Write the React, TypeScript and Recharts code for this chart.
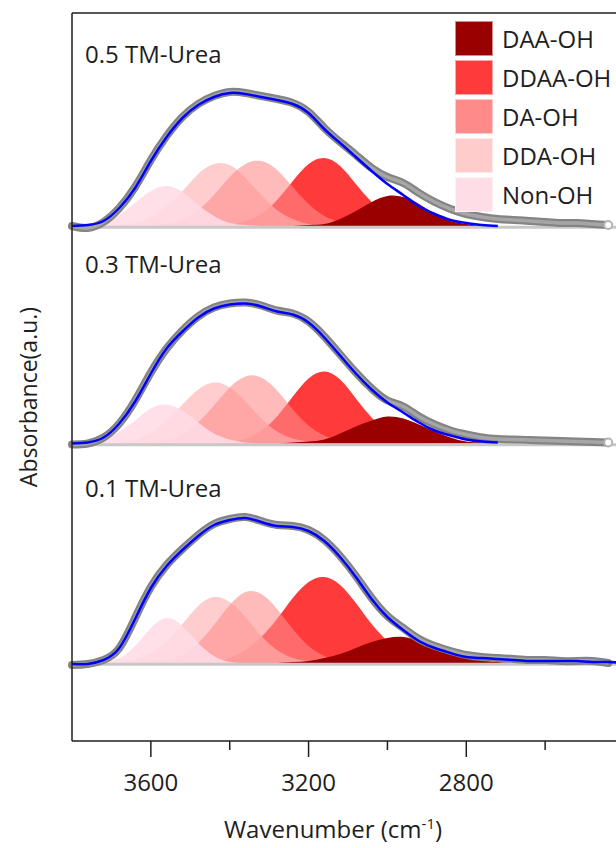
import { Area, ComposedChart, Line, ReferenceLine, XAxis, YAxis } from 'recharts'

// wavenumber grid (cm-1), high to low
const wavenumbers = [
  3800, 3760, 3720, 3680, 3640, 3600, 3560, 3520, 3480, 3440, 3400, 3360,
  3320, 3280, 3240, 3200, 3160, 3120, 3080, 3040, 3000, 2960, 2920, 2880,
  2840, 2800, 2760, 2720, 2680, 2640, 2600, 2560, 2520, 2480, 2440, 2400,
]

const xTicks = [3600, 3400, 3200, 3000, 2800, 2600]
const labeledTicks = [3600, 3200, 2800]

// 0.5 TM-Urea
const nonOH05 = [0, 0.01, 0.04, 0.11, 0.23, 0.35, 0.4, 0.34, 0.21, 0.1, 0.03, 0.01, 0, 0, 0, 0, 0, 0, 0, 0, 0, 0, 0, 0, 0, 0, 0, 0, 0, 0, 0, 0, 0, 0, 0, 0]
const dda05 = [0, 0, 0, 0.01, 0.03, 0.09, 0.2, 0.35, 0.52, 0.62, 0.61, 0.48, 0.31, 0.16, 0.07, 0.02, 0.01, 0, 0, 0, 0, 0, 0, 0, 0, 0, 0, 0, 0, 0, 0, 0, 0, 0, 0, 0]
const da05 = [0, 0, 0, 0, 0, 0.01, 0.02, 0.07, 0.16, 0.31, 0.49, 0.62, 0.65, 0.56, 0.39, 0.22, 0.1, 0.04, 0.01, 0, 0, 0, 0, 0, 0, 0, 0, 0, 0, 0, 0, 0, 0, 0, 0, 0]
const ddaa05 = [0, 0, 0, 0, 0, 0, 0, 0, 0, 0, 0.01, 0.05, 0.12, 0.26, 0.45, 0.62, 0.68, 0.6, 0.42, 0.24, 0.11, 0.04, 0.01, 0, 0, 0, 0, 0, 0, 0, 0, 0, 0, 0, 0, 0]
const daa05 = [0, 0, 0, 0, 0, 0, 0, 0, 0, 0, 0, 0, 0, 0, 0, 0.01, 0.02, 0.07, 0.15, 0.24, 0.3, 0.29, 0.22, 0.12, 0.05, 0.02, 0, 0, 0, 0, 0, 0, 0, 0, 0, 0]
const fit05 = [0, 0.01, 0.05, 0.18, 0.38, 0.65, 0.89, 1.08, 1.21, 1.29, 1.33, 1.32, 1.29, 1.26, 1.22, 1.13, 0.97, 0.83, 0.69, 0.55, 0.42, 0.31, 0.2, 0.12, 0.06, 0.03, 0.01, 0, null, null, null, null, null, null, null, null]
const exp05 = [0, -0.02, 0.04, 0.18, 0.39, 0.66, 0.9, 1.09, 1.22, 1.3, 1.34, 1.33, 1.3, 1.27, 1.23, 1.14, 0.98, 0.84, 0.71, 0.58, 0.49, 0.43, 0.33, 0.24, 0.17, 0.12, 0.09, 0.07, 0.06, 0.05, 0.04, 0.03, 0.03, 0.02, 0.01, null]

// 0.3 TM-Urea
const nonOH03 = [0, 0.01, 0.04, 0.12, 0.23, 0.35, 0.39, 0.33, 0.21, 0.1, 0.04, 0.01, 0, 0, 0, 0, 0, 0, 0, 0, 0, 0, 0, 0, 0, 0, 0, 0, 0, 0, 0, 0, 0, 0, 0, 0]
const dda03 = [0, 0, 0, 0.01, 0.04, 0.11, 0.23, 0.39, 0.54, 0.61, 0.56, 0.42, 0.25, 0.12, 0.05, 0.02, 0, 0, 0, 0, 0, 0, 0, 0, 0, 0, 0, 0, 0, 0, 0, 0, 0, 0, 0, 0]
const da03 = [0, 0, 0, 0, 0, 0.01, 0.03, 0.09, 0.21, 0.38, 0.56, 0.67, 0.66, 0.53, 0.34, 0.18, 0.08, 0.03, 0.01, 0, 0, 0, 0, 0, 0, 0, 0, 0, 0, 0, 0, 0, 0, 0, 0, 0]
const ddaa03 = [0, 0, 0, 0, 0, 0, 0, 0, 0, 0, 0.01, 0.05, 0.13, 0.27, 0.47, 0.65, 0.72, 0.64, 0.45, 0.26, 0.12, 0.04, 0.01, 0, 0, 0, 0, 0, 0, 0, 0, 0, 0, 0, 0, 0]
const daa03 = [0, 0, 0, 0, 0, 0, 0, 0, 0, 0, 0, 0, 0, 0, 0.01, 0.02, 0.04, 0.1, 0.17, 0.23, 0.27, 0.25, 0.19, 0.12, 0.06, 0.02, 0.01, 0, 0, 0, 0, 0, 0, 0, 0, 0]
const fit03 = [0, 0.01, 0.06, 0.2, 0.42, 0.7, 0.95, 1.12, 1.26, 1.35, 1.39, 1.4, 1.37, 1.32, 1.29, 1.21, 1.06, 0.88, 0.7, 0.54, 0.41, 0.31, 0.21, 0.13, 0.08, 0.04, 0.02, 0.01, null, null, null, null, null, null, null, null]
const exp03 = [-0.01, 0, 0.06, 0.2, 0.43, 0.71, 0.95, 1.13, 1.27, 1.36, 1.4, 1.41, 1.38, 1.33, 1.3, 1.22, 1.07, 0.89, 0.71, 0.55, 0.43, 0.37, 0.27, 0.19, 0.13, 0.09, 0.06, 0.045, 0.04, 0.035, 0.03, 0.025, 0.02, 0.015, 0.01, null]

// 0.1 TM-Urea
const nonOH01 = [0, 0, 0.01, 0.05, 0.17, 0.35, 0.45, 0.37, 0.2, 0.07, 0.01, 0, 0, 0, 0, 0, 0, 0, 0, 0, 0, 0, 0, 0, 0, 0, 0, 0, 0, 0, 0, 0, 0, 0, 0, 0]
const dda01 = [0, 0, 0, 0.01, 0.03, 0.1, 0.22, 0.39, 0.57, 0.66, 0.61, 0.46, 0.27, 0.13, 0.05, 0.02, 0, 0, 0, 0, 0, 0, 0, 0, 0, 0, 0, 0, 0, 0, 0, 0, 0, 0, 0, 0]
const da01 = [0, 0, 0, 0, 0, 0.01, 0.03, 0.08, 0.2, 0.38, 0.58, 0.71, 0.69, 0.54, 0.34, 0.17, 0.07, 0.02, 0.01, 0, 0, 0, 0, 0, 0, 0, 0, 0, 0, 0, 0, 0, 0, 0, 0, 0]
const ddaa01 = [0, 0, 0, 0, 0, 0, 0, 0, 0.01, 0.02, 0.05, 0.13, 0.26, 0.44, 0.65, 0.81, 0.86, 0.78, 0.6, 0.39, 0.22, 0.1, 0.04, 0.01, 0, 0, 0, 0, 0, 0, 0, 0, 0, 0, 0, 0]
const daa01 = [0, 0, 0, 0, 0, 0, 0, 0, 0, 0, 0, 0, 0, 0, 0.01, 0.02, 0.05, 0.09, 0.15, 0.21, 0.25, 0.26, 0.22, 0.16, 0.1, 0.06, 0.03, 0.01, 0, 0, 0, 0, 0, 0, 0, 0]
const fit01 = [-0.01, -0.01, 0.03, 0.15, 0.44, 0.75, 0.97, 1.13, 1.27, 1.38, 1.43, 1.45, 1.41, 1.37, 1.36, 1.32, 1.22, 1.06, 0.86, 0.64, 0.46, 0.33, 0.22, 0.15, 0.1, 0.06, 0.05, 0.04, 0.03, 0.02, 0.02, 0.02, 0.02, 0.01, 0.01, 0]
const exp01 = [-0.02, -0.01, 0.03, 0.15, 0.45, 0.76, 0.98, 1.14, 1.28, 1.39, 1.44, 1.46, 1.42, 1.38, 1.37, 1.33, 1.23, 1.07, 0.87, 0.65, 0.47, 0.35, 0.24, 0.17, 0.12, 0.08, 0.06, 0.05, 0.04, 0.03, 0.03, 0.02, 0.02, 0.02, 0, null]

const peakNames = ['DAA-OH', 'DDAA-OH', 'DA-OH', 'DDA-OH', 'Non-OH']

type PeakKey = 'daa' | 'ddaa' | 'da' | 'dda' | 'nonOH'

const peakStyle: Record<PeakKey, { fill: string; opacity: number; swatch: string }> = {
  ddaa: { fill: '#ff3a3a', opacity: 1, swatch: '#ff3a3a' },
  dda: { fill: '#ffc4c4', opacity: 0.85, swatch: '#ffcccc' },
  da: { fill: '#ff8c8c', opacity: 0.6, swatch: '#ff8a8a' },
  nonOH: { fill: '#ffdce5', opacity: 0.9, swatch: '#ffdde6' },
  daa: { fill: '#990000', opacity: 1, swatch: '#990000' },
}
// back to front
const drawOrder: PeakKey[] = ['ddaa', 'dda', 'da', 'nonOH', 'daa']
const legendOrder: PeakKey[] = ['daa', 'ddaa', 'da', 'dda', 'nonOH']

const panels = [
  { id: 'p05', label: '0.5 TM-Urea', base: 5.15, labelTop: 40, peaks: { nonOH: nonOH05, dda: dda05, da: da05, ddaa: ddaa05, daa: daa05 }, fit: fit05, exp: exp05 },
  { id: 'p03', label: '0.3 TM-Urea', base: 2.975, labelTop: 250, peaks: { nonOH: nonOH03, dda: dda03, da: da03, ddaa: ddaa03, daa: daa03 }, fit: fit03, exp: exp03 },
  { id: 'p01', label: '0.1 TM-Urea', base: 0.78, labelTop: 474, peaks: { nonOH: nonOH01, dda: dda01, da: da01, ddaa: ddaa01, daa: daa01 }, fit: fit01, exp: exp01 },
]

const X_MIN = 2400
const X_MAX = 3800
const Y_MAX = 7.28
const FONT = '"Open Sans", sans-serif'
const INK = '#1e1e1e'

const rows = wavenumbers.map((w, i) => {
  const row: Record<string, number | number[] | null> = { w }
  panels.forEach((p) => {
    drawOrder.forEach((k) => {
      row[`${p.id}_${k}`] = [p.base, p.base + p.peaks[k][i]]
    })
    row[`${p.id}_fit`] = p.fit[i] == null ? null : p.base + (p.fit[i] as number)
    row[`${p.id}_exp`] = p.exp[i] == null ? null : p.base + (p.exp[i] as number)
  })
  return row
})

const WaveTick = (props: any) => {
  const { x, y, payload } = props
  const major = labeledTicks.includes(payload.value)
  return (
    <g>
      <line x1={x} x2={x} y1={y} y2={y + (major ? 16 : 9)} stroke={INK} strokeWidth={1.5} />
      {major && (
        <text x={x} y={y + 50} textAnchor="middle" fontSize={24} fontFamily={FONT} fill={INK}>
          {payload.value}
        </text>
      )}
    </g>
  )
}

// hollow marker on the last measured point, only where the fit stops short of it
const endCircle = (fit: (number | null)[], exp: (number | null)[]) => (props: any) => {
  const last = exp.reduce((acc: number, v, i) => (v == null ? acc : i), 0)
  if (props.index !== last || fit[last] != null) return <g key={props.index} />
  return <circle key={props.index} cx={props.cx} cy={props.cy} r={4} fill="#fff" stroke="#b4b4b4" strokeWidth={2} />
}

export default function App() {
  return (
    <div style={{ position: 'fixed', left: 0, top: 0, width: 616, height: 848, overflow: 'hidden', background: '#fff' }}>
      <ComposedChart width={640} height={848} data={rows} margin={{ top: 13, right: 16, bottom: 0, left: 72 }}>
        <XAxis
          dataKey="w"
          type="number"
          domain={[X_MIN, X_MAX]}
          reversed
          ticks={xTicks}
          tick={<WaveTick />}
          tickLine={false}
          tickSize={0}
          tickMargin={0}
          height={107}
          axisLine={false}
        />
        <YAxis type="number" domain={[0, Y_MAX]} hide />
        {panels.map((p) => (
          <ReferenceLine key={`${p.id}_zero`} y={p.base - 0.012} stroke="#c8c8c8" strokeWidth={3} />
        ))}
        {panels.flatMap((p) =>
          drawOrder.map((k) => (
            <Area
              key={`${p.id}_${k}`}
              dataKey={`${p.id}_${k}`}
              type="natural"
              stroke="none"
              fill={peakStyle[k].fill}
              fillOpacity={peakStyle[k].opacity}
              dot={false}
              activeDot={false}
              isAnimationActive={false}
            />
          )),
        )}
        {panels.map((p) => (
          <Line
            key={`${p.id}_exp_edge`}
            dataKey={`${p.id}_exp`}
            type="natural"
            stroke="#848484"
            strokeWidth={8}
            strokeLinecap="round"
            dot={false}
            activeDot={false}
            isAnimationActive={false}
          />
        ))}
        {panels.map((p) => (
          <Line
            key={`${p.id}_exp_core`}
            dataKey={`${p.id}_exp`}
            type="natural"
            stroke="#a6a6a6"
            strokeWidth={3.5}
            dot={endCircle(p.fit, p.exp)}
            activeDot={false}
            isAnimationActive={false}
          />
        ))}
        {panels.map((p) => (
          <Line
            key={`${p.id}_fit`}
            dataKey={`${p.id}_fit`}
            type="natural"
            stroke="#0000ff"
            strokeWidth={2.5}
            dot={false}
            activeDot={false}
            isAnimationActive={false}
          />
        ))}
        {/* frame: left, bottom, top, right */}
        <ReferenceLine x={X_MAX} stroke={INK} strokeWidth={1.5} />
        <ReferenceLine y={0} stroke={INK} strokeWidth={1.5} />
        <ReferenceLine y={Y_MAX} stroke={INK} strokeWidth={1.5} />
        <ReferenceLine x={X_MIN} stroke={INK} strokeWidth={1.5} />
      </ComposedChart>

      {panels.map((p) => (
        <div
          key={`${p.id}_label`}
          style={{ position: 'absolute', left: 85, top: p.labelTop, fontFamily: FONT, fontSize: 24, color: INK, lineHeight: '28px', whiteSpace: 'nowrap' }}
        >
          {p.label}
        </div>
      ))}

      <div style={{ position: 'absolute', left: 455, top: 21, fontFamily: FONT, fontSize: 24, color: INK }}>
        {legendOrder.map((k, i) => (
          <div key={k} style={{ display: 'flex', alignItems: 'center', height: 39 }}>
            <div
              style={{
                width: 38,
                height: 35,
                boxSizing: 'border-box',
                background: peakStyle[k].swatch,
                border: '1px solid rgba(255,255,255,0.55)',
                marginRight: 9,
                marginTop: -4,
              }}
            />
            <span style={{ lineHeight: '28px', marginTop: -4 }}>{peakNames[i]}</span>
          </div>
        ))}
      </div>

      <div
        style={{
          position: 'absolute',
          left: 28,
          top: 397,
          transform: 'translate(-50%, -50%) rotate(-90deg)',
          fontFamily: FONT,
          fontSize: 23,
          color: INK,
          whiteSpace: 'nowrap',
        }}
      >
        Absorbance(a.u.)
      </div>

      <div
        style={{
          position: 'absolute',
          left: 333,
          top: 815,
          transform: 'translateX(-50%)',
          fontFamily: FONT,
          fontSize: 24,
          color: INK,
          whiteSpace: 'nowrap',
          lineHeight: '28px',
        }}
      >
        Wavenumber (cm<sup style={{ fontSize: 15, lineHeight: 0 }}>-1</sup>)
      </div>
    </div>
  )
}
